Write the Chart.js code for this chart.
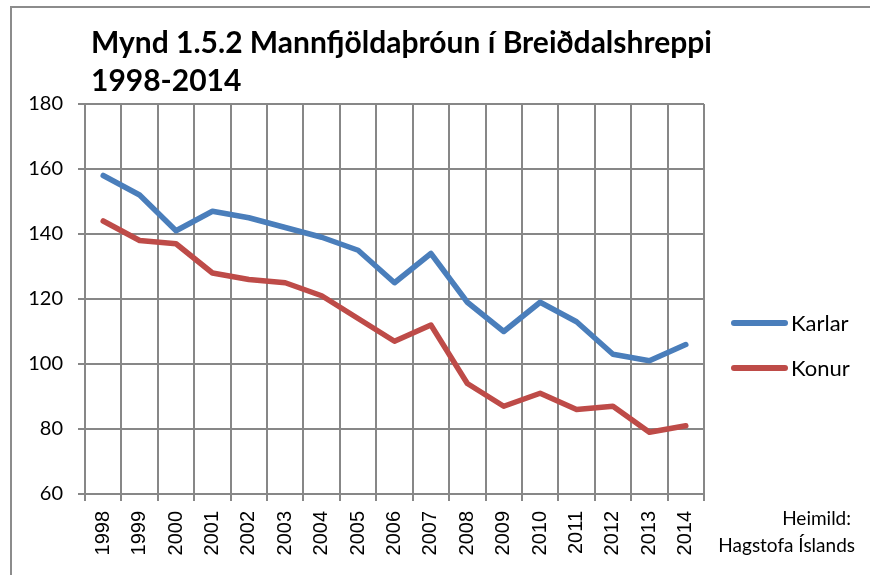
<!DOCTYPE html>
<html>
<head>
<meta charset="utf-8">
<title>Mannfjöldaþróun í Breiðdalshreppi</title>
<script src="https://cdn.jsdelivr.net/npm/chart.js@4.4.1/dist/chart.umd.min.js"></script>
<style>
    html, body { margin: 0; padding: 0; background: #fff; overflow: hidden; }
    #wrap { position: relative; width: 870px; height: 575px; }
    #frame {
        position: absolute; left: 10px; top: 6px; width: 900px; height: 600px;
        border-top: 2px solid #8c8c8c; border-left: 2px solid #8c8c8c;
    }
    canvas { position: absolute; left: 0; top: 0; }
</style>
</head>
<body>
<div id="wrap">
    <div id="frame"></div>
    <canvas id="popChart" width="870" height="575"></canvas>
</div>
<script>
// Data
const years = ['1998', '1999', '2000', '2001', '2002', '2003', '2004', '2005', '2006',
               '2007', '2008', '2009', '2010', '2011', '2012', '2013', '2014'];
const karlar = [158, 152, 141, 147, 145, 142, 139, 135, 125, 134, 119, 110, 119, 113, 103, 101, 106];
const konur  = [144, 138, 137, 128, 126, 125, 121, 114, 107, 112, 94, 87, 91, 86, 87, 79, 81];
const seriesNames = ['Karlar', 'Konur'];
const titleLines = ['Mynd 1.5.2 Mannfjöldaþróun í Breiðdalshreppi', '1998-2014'];
const sourceLines = ['Heimild:', 'Hagstofa Íslands'];

const BLUE = '#4a7ebb';
const RED = '#be4b48';
const GRID = '#878787';

// Title, legend and source are drawn on top of the chart
const overlayText = {
    id: 'overlayText',
    afterDraw(chart) {
        const ctx = chart.ctx;
        ctx.save();
        ctx.fillStyle = '#000';
        ctx.textAlign = 'left';
        ctx.textBaseline = 'alphabetic';
        ctx.font = 'bold 30px Lato';
        ctx.fillText(titleLines[0], 91, 53);
        ctx.fillText(titleLines[1], 91, 91);

        // legend
        chart.data.datasets.forEach((ds, i) => {
            const y = 323 + i * 45;
            ctx.strokeStyle = ds.borderColor;
            ctx.lineWidth = 6;
            ctx.lineCap = 'round';
            ctx.beginPath();
            ctx.moveTo(734, y);
            ctx.lineTo(785, y);
            ctx.stroke();
            ctx.fillStyle = '#000';
            ctx.font = '22px Lato';
            ctx.textBaseline = 'middle';
            ctx.fillText(ds.label, 791, y + 1);
        });

        // source
        ctx.textAlign = 'right';
        ctx.textBaseline = 'alphabetic';
        ctx.font = '19px Lato';
        ctx.fillText(sourceLines[0], 851, 525);
        ctx.fillText(sourceLines[1], 855, 552);
        ctx.restore();
    }
};

const ctx = document.getElementById('popChart').getContext('2d');
new Chart(ctx, {
    type: 'line',
    data: {
        labels: years,
        datasets: [
            { label: seriesNames[0], data: karlar, borderColor: BLUE, backgroundColor: BLUE },
            { label: seriesNames[1], data: konur, borderColor: RED, backgroundColor: RED }
        ]
    },
    options: {
        responsive: false,
        animation: false,
        devicePixelRatio: 1,
        layout: { padding: { left: 0, right: 166, top: 104, bottom: 0 } },
        elements: {
            line: { borderWidth: 5.5, tension: 0, borderCapStyle: 'round', borderJoinStyle: 'round' },
            point: { radius: 0, hoverRadius: 0 }
        },
        plugins: {
            legend: { display: false },
            title: { display: false },
            tooltip: { enabled: false }
        },
        scales: {
            x: {
                offset: true,
                grid: { offset: true, color: GRID, lineWidth: 2, tickLength: 7, drawTicks: true },
                border: { color: GRID, width: 2 },
                ticks: {
                    minRotation: 90, maxRotation: 90, autoSkip: false, padding: 10,
                    color: '#000', font: { family: 'Liberation Sans', size: 20 }
                },
                afterFit(scale) { scale.height = 81; }
            },
            y: {
                min: 60, max: 180,
                grid: { color: GRID, lineWidth: 2, tickLength: 7 },
                border: { color: GRID, width: 2 },
                ticks: {
                    stepSize: 20, padding: 15,
                    color: '#000', font: { family: 'Lato', size: 20 }
                },
                afterFit(scale) { scale.width = 85; }
            }
        }
    },
    plugins: [overlayText]
});
</script>
</body>
</html>
